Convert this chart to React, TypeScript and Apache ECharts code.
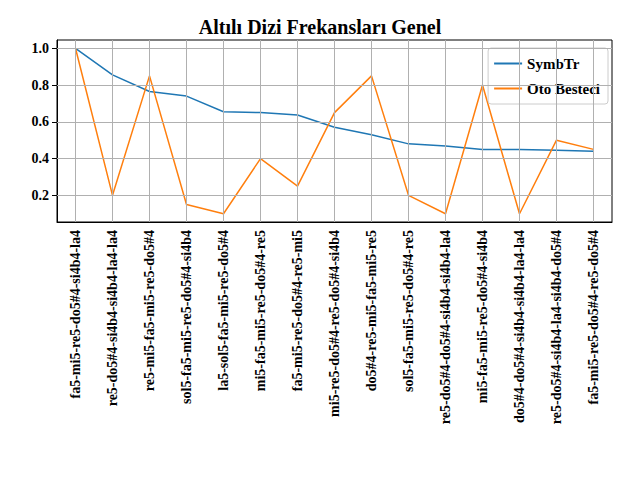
import React, { useEffect, useRef } from "react";
import * as echarts from "echarts";

const categories = [
  "fa5-mi5-re5-do5#4-si4b4-la4",
  "re5-do5#4-si4b4-si4b4-la4-la4",
  "re5-mi5-fa5-mi5-re5-do5#4",
  "sol5-fa5-mi5-re5-do5#4-si4b4",
  "la5-sol5-fa5-mi5-re5-do5#4",
  "mi5-fa5-mi5-re5-do5#4-re5",
  "fa5-mi5-re5-do5#4-re5-mi5",
  "mi5-re5-do5#4-re5-do5#4-si4b4",
  "do5#4-re5-mi5-fa5-mi5-re5",
  "sol5-fa5-mi5-re5-do5#4-re5",
  "re5-do5#4-do5#4-si4b4-si4b4-la4",
  "mi5-fa5-mi5-re5-do5#4-si4b4",
  "do5#4-do5#4-si4b4-si4b4-la4-la4",
  "re5-do5#4-si4b4-la4-si4b4-do5#4",
  "fa5-mi5-re5-do5#4-re5-do5#4",
];
const symbtr = [1.0, 0.855, 0.765, 0.74, 0.655, 0.65, 0.637, 0.57, 0.53, 0.48, 0.468, 0.45, 0.45, 0.445, 0.44];
const oto = [1.0, 0.2, 0.85, 0.15, 0.1, 0.4, 0.25, 0.65, 0.85, 0.2, 0.1, 0.8, 0.1, 0.5, 0.45];
const yTicks = [0.2, 0.4, 0.6, 0.8, 1.0];

const font = "Liberation Serif";

export default function App() {
  const ref = useRef<HTMLDivElement>(null);
  useEffect(() => {
    const chart = echarts.init(ref.current!, null, { renderer: "svg" });
    const grid = { color: "#b0b0b0", type: "solid", width: 1 };
    chart.setOption({
      animation: false,
      title: {
        text: "Altılı Dizi Frekansları Genel",
        left: "center",
        top: 12,
        textStyle: { fontFamily: font, fontWeight: "bold", fontSize: 20, color: "#000" },
      },
      legend: {
        orient: "vertical",
        right: 32,
        top: 48,
        itemWidth: 28,
        itemHeight: 2,
        itemGap: 10,
        padding: [8, 8, 8, 6],
        borderColor: "#ccc",
        borderWidth: 1,
        borderRadius: 3,
        backgroundColor: "rgba(255,255,255,0.8)",
        textStyle: { fontFamily: font, fontWeight: "bold", fontSize: 15, color: "#000" },
        icon: "rect",
      },
      grid: { left: 57, right: 28, top: 40, bottom: 258, show: true, borderColor: "#000", borderWidth: 1 },
      xAxis: {
        type: "category",
        data: categories,
        boundaryGap: true,
        axisLine: { lineStyle: { color: "#000" } },
        axisTick: { alignWithLabel: true, lineStyle: { color: "#000" } },
        axisLabel: { rotate: 90, interval: 0, fontFamily: font, fontWeight: "bold", fontSize: 14, color: "#000" },
        splitLine: { show: false },
      },
      yAxis: {
        type: "value",
        min: 0.055,
        max: 1.045,
        axisLine: { show: true, lineStyle: { color: "#000" } },
        axisTick: { show: true, customValues: yTicks, lineStyle: { color: "#000" } },
        axisLabel: {
          customValues: yTicks,
          fontFamily: font,
          fontWeight: "bold",
          fontSize: 14,
          color: "#000",
          formatter: (v: number) => v.toFixed(1),
        },
        splitLine: { show: false },
      },
      series: [
        {
          name: "SymbTr",
          type: "line",
          data: symbtr,
          showSymbol: false,
          lineStyle: { color: "#1f77b4", width: 1.5 },
          itemStyle: { color: "#1f77b4" },
          markLine: {
            silent: true,
            symbol: "none",
            label: { show: false },
            lineStyle: grid,
            data: [
              ...yTicks.map((v) => ({ yAxis: v })),
              ...categories.map((c) => ({ xAxis: c })),
            ],
          },
        },
        {
          name: "Oto Besteci",
          type: "line",
          data: oto,
          showSymbol: false,
          lineStyle: { color: "#ff7f0e", width: 1.5 },
          itemStyle: { color: "#ff7f0e" },
        },
      ],
    });
    return () => chart.dispose();
  }, []);
  return <div ref={ref} style={{ position: "absolute", left: 0, top: 0, width: 640, height: 480 }} />;
}
